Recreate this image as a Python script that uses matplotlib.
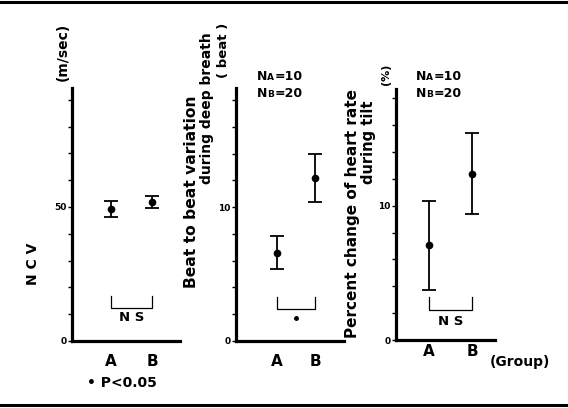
import numpy as np
import matplotlib
matplotlib.use('Agg')
import matplotlib.pyplot as plt
from matplotlib.lines import Line2D

plt.rcParams['font.family'] = ['DejaVu Sans']
plt.rcParams['font.weight'] = 'bold'

# data
groups = ['A', 'B']
ncv_mean = [49.3, 51.8]
ncv_err = [3.0, 2.3]
beat_mean = [6.6, 12.2]
beat_err = [1.25, 1.8]
tilt_mean = [7.05, 12.4]
tilt_err = [3.3, 3.0]

W, H = 568, 408
fig = plt.figure(figsize=(W / 100, H / 100), dpi=100)
renderer = fig.canvas.get_renderer()

def px(x, y):
    return x / W, 1 - y / H

def vlabel(s, x, y, fs):
    fig.text(*px(x, y), s, rotation=90, ha='center', va='center', fontsize=fs)

def make_ax(x0, x1, y0, y1, xlim, ylim, yticks, ylabels, xpad):
    ax = fig.add_axes([x0 / W, 1 - y1 / H, (x1 - x0) / W, (y1 - y0) / H])
    ax.set_xlim(xlim)
    ax.set_ylim(ylim)
    for s in ['top', 'right']:
        ax.spines[s].set_visible(False)
    for s in ['left', 'bottom']:
        ax.spines[s].set_linewidth(2.3)
    ax.set_yticks(yticks)
    ax.set_yticklabels(ylabels, fontsize=6.5)
    ax.tick_params(axis='y', length=3, width=1, pad=1)
    ax.set_xticks([1, 2])
    ax.set_xticklabels(groups, fontsize=11, fontweight='bold')
    ax.tick_params(axis='x', length=0, pad=xpad)
    return ax

def points(ax, m, e):
    ax.errorbar([1, 2], m, yerr=e, fmt='o', color='black', ms=4.5,
                capsize=4.7, elinewidth=1.3, capthick=1.3, clip_on=False)

def bracket(ax, y_top, y_bot):
    ax.plot([1, 1, 2, 2], [y_top, y_bot, y_bot, y_top], color='black', lw=0.9)

def n_label(x, y, sub, val):
    # N with a small-cap letter sitting on the baseline, then "=val"
    xf, yf = px(x, y)
    t = fig.text(xf, yf, 'N', ha='left', va='baseline', fontsize=9)
    bb = t.get_window_extent(renderer)
    t2 = fig.text(bb.x1 / W, yf, sub, ha='left', va='baseline', fontsize=6.5)
    bb2 = t2.get_window_extent(renderer)
    fig.text(bb2.x1 / W, yf, '=' + val, ha='left', va='baseline', fontsize=9)

# panel 1: NCV
ax1 = make_ax(72, 180, 88, 341, (0.05, 2.68), (0, 94.4),
              np.arange(0, 100, 10), ['0', '', '', '', '', '50', '', '', '', ''], 9)
points(ax1, ncv_mean, ncv_err)
bracket(ax1, 16.8, 12.3)
ax1.text(1.5, 8.6, 'N S', ha='center', va='center', fontsize=9.5)

# panel 2: beat to beat variation
ax2 = make_ax(236, 344, 88, 341, (-0.08, 2.76), (0, 18.9),
              np.arange(0, 20, 2), ['0', '', '', '', '', '10', '', '', '', ''], 9)
points(ax2, beat_mean, beat_err)
bracket(ax2, 3.28, 2.39)
ax2.plot([1.5], [1.7], 'o', color='black', ms=2.5)

# panel 3: heart rate change during tilt
ax3 = make_ax(396, 495, 89, 340, (0.23, 2.53), (0, 18.7),
              np.arange(0, 20, 2), ['0', '', '', '', '', '10', '', '', '', ''], 3)
points(ax3, tilt_mean, tilt_err)
bracket(ax3, 3.2, 2.24)
ax3.text(1.5, 1.4, 'N S', ha='center', va='center', fontsize=9.5)

# axis labels
vlabel('N C V', 33, 264, 10)
vlabel('(m/sec)', 63, 52, 10)
vlabel('Beat to beat variation', 191, 192, 11.2)
vlabel('during deep breath', 207, 108, 10)
vlabel('( beat )', 223, 50, 9.5)
vlabel('Percent change of heart rate', 352, 214, 11)
vlabel('during tilt', 369, 142, 10.5)
vlabel('(%)', 386, 74, 8)

# sample sizes
for x0 in [257, 416]:
    n_label(x0, 80, 'A', '10')
    n_label(x0, 97, 'B', '20')

fig.text(*px(87, 383), '• P<0.05', ha='left', va='center', fontsize=10)
fig.text(*px(490, 362), '(Group)', ha='left', va='center', fontsize=10)

# frame rules
fig.add_artist(Line2D([0, 1], [1 - 2 / H, 1 - 2 / H], color='black', lw=2.2))
fig.add_artist(Line2D([0, 1], [1 - 405 / H, 1 - 405 / H], color='black', lw=2.2))

fig.savefig('out.png', dpi=100)
